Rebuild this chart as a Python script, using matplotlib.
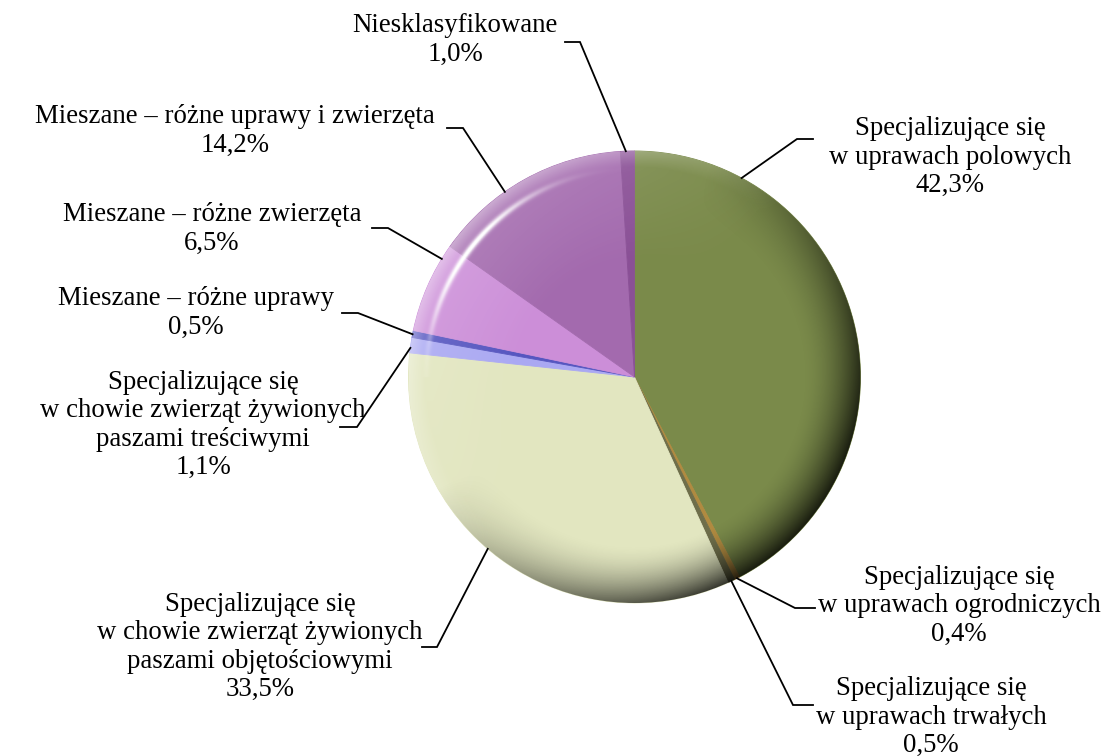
import numpy as np
import matplotlib.pyplot as plt
from matplotlib.patches import Circle

plt.rcParams['font.family'] = ['Liberation Serif', 'DejaVu Serif']

# Farm types by type of farming, share of farms (%)
labels = [
    'Specjalizujące się\nw uprawach polowych',
    'Specjalizujące się\nw uprawach ogrodniczych',
    'Specjalizujące się\nw uprawach trwałych',
    'Specjalizujące się\nw chowie zwierząt żywionych\npaszami objętościowymi',
    'Specjalizujące się\nw chowie zwierząt żywionych\npaszami treściwymi',
    'Mieszane – różne uprawy',
    'Mieszane – różne zwierzęta',
    'Mieszane – różne uprawy i zwierzęta',
    'Niesklasyfikowane',
]
shares = [42.3, 0.4, 0.5, 33.5, 1.1, 0.5, 6.5, 14.2, 1.0]
colors = ['#7a8a4a', '#b08a40', '#6e6e4a', '#e2e6c0', '#aaa8f2',
          '#5656c0', '#cc8ed8', '#a36aae', '#8a5096']

# label layout in pixels (origin top-left): text centre, elbow, tick end,
# and the angle on the rim where the leader line starts
text_pos = [(950, 157), (959, 606), (931, 717), (260, 647), (203, 425),
            (196, 313), (212, 229), (235, 131), (455, 40)]
elbows = [(797, 139), (795, 608), (793, 705), (437, 647), (357, 427),
          (358, 313), (388, 228), (463, 128), (580, 42)]
tick_ends = [(813, 139), (815, 608), (813, 705), (422, 647), (340, 427),
             (342, 313), (372, 228), (447, 128), (565, 42)]
anchor_deg = [61.7, -63.0, -64.6, -130.5, 172.6, 169.1, 148.5, 125.0, 92.2]

W, H = 1108, 756
cx, cy, R = 634.5, H - 377, 226

fig = plt.figure(figsize=(W / 100, H / 100), dpi=100)
ax = fig.add_axes([0, 0, 1, 1])

wedges, _ = ax.pie(shares, colors=colors, startangle=90, counterclock=False,
                   center=(cx, cy), radius=R, wedgeprops=dict(linewidth=0.6))
for w, c in zip(wedges, colors):
    w.set_edgecolor(c)

# 3D-ish shading on top of the pie: dark rim away from the light,
# white highlight arc on the upper left
n = 700
g = np.linspace(-1, 1, n)
gx, gy = np.meshgrid(g, g)
r = np.hypot(gx, gy)
ang = np.degrees(np.arctan2(gy, gx))
la = np.radians(140)
dot = (gx * np.cos(la) + gy * np.sin(la)) / np.maximum(r, 1e-6)

edge = np.clip((r - 0.74) / 0.26, 0, 1) ** 1.8
dark_a = edge * np.clip(0.62 * (-dot) + 0.22, 0, 0.8)
dark = np.zeros((n, n, 4))
dark[..., 3] = dark_a

arc_w = np.exp(-((ang - 142) / 24) ** 2)
hl = np.exp(-((r - 0.925) / 0.013) ** 2) * arc_w
rim = np.clip((r - 0.93) / 0.07, 0, 1) * np.clip(dot, 0, 1) * 0.32
inner = np.clip(dot, 0, 1) * np.clip((r - 0.5) / 0.4, 0, 1) * 0.12
light = np.ones((n, n, 4))
light[..., 3] = np.clip(hl + rim + inner, 0, 1)

clip = Circle((cx, cy), R, transform=ax.transData)
for layer in (dark, light):
    im = ax.imshow(layer, extent=(cx - R, cx + R, cy - R, cy + R),
                   origin='lower', interpolation='bilinear', zorder=3)
    im.set_clip_path(clip)

# labels with leader lines
for i, lab in enumerate(labels):
    txt = lab + '\n' + f'{shares[i]:.1f}'.replace('.', ',') + '%'
    tx, ty = text_pos[i]
    ax.text(tx, H - ty, txt, ha='center', va='center', fontsize=19.3,
            linespacing=1.17, color='black', zorder=6)
    a = np.radians(anchor_deg[i])
    ax_, ay_ = cx + R * np.cos(a), cy + R * np.sin(a)
    ex, ey = elbows[i]
    tx2, ty2 = tick_ends[i]
    ax.plot([ax_, ex, tx2], [ay_, H - ey, H - ty2], color='black',
            linewidth=1.3, solid_joinstyle='miter', zorder=5)

ax.set_xlim(0, W)
ax.set_ylim(0, H)
ax.set_aspect('equal')
ax.axis('off')

fig.savefig('out.png', dpi=100, facecolor='white')
